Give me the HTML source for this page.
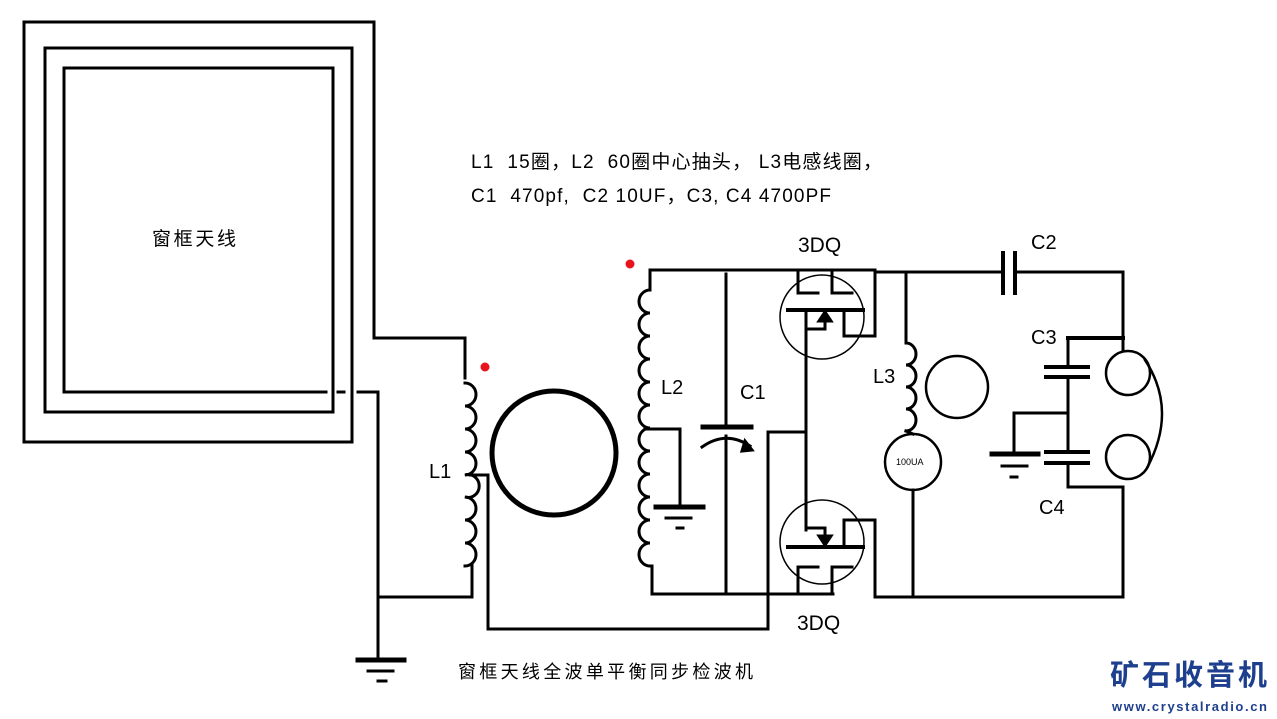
<!DOCTYPE html>
<html><head><meta charset="utf-8"><style>
body{margin:0;background:#fff;width:1277px;height:719px;overflow:hidden}
svg{display:block}
text{font-family:"Liberation Sans","Noto Sans CJK SC",sans-serif}
</style></head><body>
<svg width="1277" height="719" viewBox="0 0 1277 719" xmlns="http://www.w3.org/2000/svg">
<g fill="none" stroke="#000" stroke-width="3" stroke-linecap="square">
<polyline points="465,378 465,338 374,338 374,22 24,22 24,442 352,442 352,48 45,48 45,412 333,412 333,68 64,68 64,392 307,392"/>
<line x1="307" y1="392" x2="326" y2="392"/>
<line x1="338" y1="392" x2="344" y2="392"/>
<polyline points="358,392 378,392 378,597 472,597 472,565"/>
<line x1="378" y1="597" x2="378" y2="660"/>
<line x1="358" y1="660" x2="404" y2="660" stroke-width="5"/>
<line x1="368" y1="671" x2="393" y2="671"/>
<line x1="378" y1="681" x2="386" y2="681"/>
<path d="M465,383 a11,11.5 0 1 1 0,23 a11,11.5 0 1 1 0,23 a11,11.5 0 1 1 0,23 a11,11.5 0 1 1 0,23 a11,11.5 0 1 1 0,22 a11,11.5 0 1 1 0,23 a11,11.5 0 1 1 0,23 a11,11.5 0 1 1 0,23"/>
<polyline points="470,475 488,475 488,629 768,629 768,432 806,432"/>
<circle cx="554" cy="453" r="62" stroke-width="5"/>
<polyline points="650,290 650,270 875,270"/>
<path d="M650,290 a11,11.5 0 1 0 0,23 a11,11.5 0 1 0 0,23 a11,11.5 0 1 0 0,23 a11,11.5 0 1 0 0,23 a11,11.5 0 1 0 0,23 a11,11.5 0 1 0 0,23 a11,11.5 0 1 0 0,23 a11,11.5 0 1 0 0,23 a11,11.5 0 1 0 0,23 a11,11.5 0 1 0 0,23 a11,11.5 0 1 0 0,23 a11,11.5 0 1 0 0,23"/>
<polyline points="650,566 652,566 652,594 833,594"/>
<polyline points="645,429 680,429 680,507"/>
<line x1="656" y1="507" x2="703" y2="507" stroke-width="5"/>
<line x1="666" y1="518" x2="691" y2="518"/>
<line x1="677" y1="528" x2="683" y2="528"/>
<line x1="726" y1="274" x2="726" y2="426"/>
<line x1="703" y1="427" x2="751" y2="427" stroke-width="5"/>
<line x1="726" y1="436" x2="726" y2="594"/>
<path d="M702,447 Q726,430 750,446"/>
<path d="M745,441 L752,450 L742,451 Z" fill="#000"/>
<circle cx="822" cy="317" r="42" stroke-width="1.5"/>
<polyline points="798,272 798,293 818,293"/>
<polyline points="832,272 832,293 852,293"/>
<line x1="788" y1="310" x2="863" y2="310" stroke-width="4"/>
<line x1="806" y1="310" x2="806" y2="530"/>
<polyline points="806,329 825,329 825,316"/>
<path d="M819,321 L825,312 L831,321 Z" fill="#000"/>
<polyline points="844,310 844,336 875,336 875,270"/>
<circle cx="822" cy="542" r="42" stroke-width="1.5"/>
<polyline points="798,594 798,567 818,567"/>
<polyline points="832,594 832,567 852,567"/>
<line x1="788" y1="547" x2="863" y2="547" stroke-width="4"/>
<polyline points="806,528 825,528 825,540"/>
<path d="M819,536 L825,545 L831,536 Z" fill="#000"/>
<polyline points="844,547 844,520 875,520 875,597 1123,597 1123,487"/>
<polyline points="875,272 1002,272"/>
<line x1="1003" y1="253" x2="1003" y2="293" stroke-width="4"/>
<line x1="1015" y1="253" x2="1015" y2="293" stroke-width="4"/>
<polyline points="1016,272 1123,272 1123,350"/>
<polyline points="906,272 906,343"/>
<path d="M906,343 a10,11 0 1 1 0,22 a10,11 0 1 1 0,22 a10,11 0 1 1 0,22 a10,11 0 1 1 0,22"/>
<line x1="906" y1="431" x2="913" y2="434"/>
<circle cx="913" cy="462" r="28" stroke-width="2.5"/>
<line x1="913" y1="490" x2="913" y2="597"/>
<circle cx="957" cy="387" r="31" stroke-width="2.5"/>
<line x1="1068" y1="338" x2="1123" y2="338" stroke-width="4"/>
<line x1="1068" y1="338" x2="1068" y2="366"/>
<line x1="1046" y1="367" x2="1088" y2="367" stroke-width="4"/>
<line x1="1046" y1="377" x2="1088" y2="377" stroke-width="4"/>
<line x1="1068" y1="378" x2="1068" y2="451"/>
<line x1="1046" y1="452" x2="1088" y2="452" stroke-width="4"/>
<line x1="1046" y1="463" x2="1088" y2="463" stroke-width="4"/>
<polyline points="1068,464 1068,487 1123,487"/>
<polyline points="1068,413 1014,413 1014,453"/>
<line x1="992" y1="454" x2="1038" y2="454" stroke-width="5"/>
<line x1="1002" y1="466" x2="1027" y2="466"/>
<line x1="1011" y1="477" x2="1017" y2="477"/>
<circle cx="1128" cy="373" r="22" stroke-width="2.5"/>
<circle cx="1128" cy="457" r="22" stroke-width="2.5"/>
<path d="M1145,360 Q1178,410 1147,468" stroke-width="2.5"/>
</g>
<circle cx="485" cy="367" r="4.5" fill="#e8141c"/>
<circle cx="630" cy="264" r="4.5" fill="#e8141c"/>
<g fill="#000" font-size="19">
<text x="152" y="245" font-size="19" textLength="84">窗框天线</text>
<text x="471" y="168" textLength="411" lengthAdjust="spacing">L1&#160; 15圈，L2&#160; 60圈中心抽头，&#160;L3电感线圈，</text>
<text x="471" y="202" textLength="360" lengthAdjust="spacing">C1&#160; 470pf,&#160; C2 10UF，C3, C4 4700PF</text>
<text x="798" y="252" font-size="21">3DQ</text>
<text x="797" y="630" font-size="21">3DQ</text>
<text x="1031" y="249" font-size="20">C2</text>
<text x="1031" y="344" font-size="20">C3</text>
<text x="1039" y="514" font-size="20">C4</text>
<text x="873" y="383" font-size="20">L3</text>
<text x="661" y="394" font-size="20">L2</text>
<text x="740" y="399" font-size="20">C1</text>
<text x="429" y="478" font-size="20">L1</text>
<text x="896" y="465" font-size="9">100UA</text>
<text x="458" y="678" font-size="18" textLength="295">窗框天线全波单平衡同步检波机</text>
<text x="1110" y="685" font-size="29" font-weight="bold" fill="#1d3f8e" textLength="157">矿石收音机</text>
<text x="1112" y="711" font-size="13" font-weight="bold" fill="#1d3f8e" textLength="155">www.crystalradio.cn</text>
</g>
</svg>
</body></html>
